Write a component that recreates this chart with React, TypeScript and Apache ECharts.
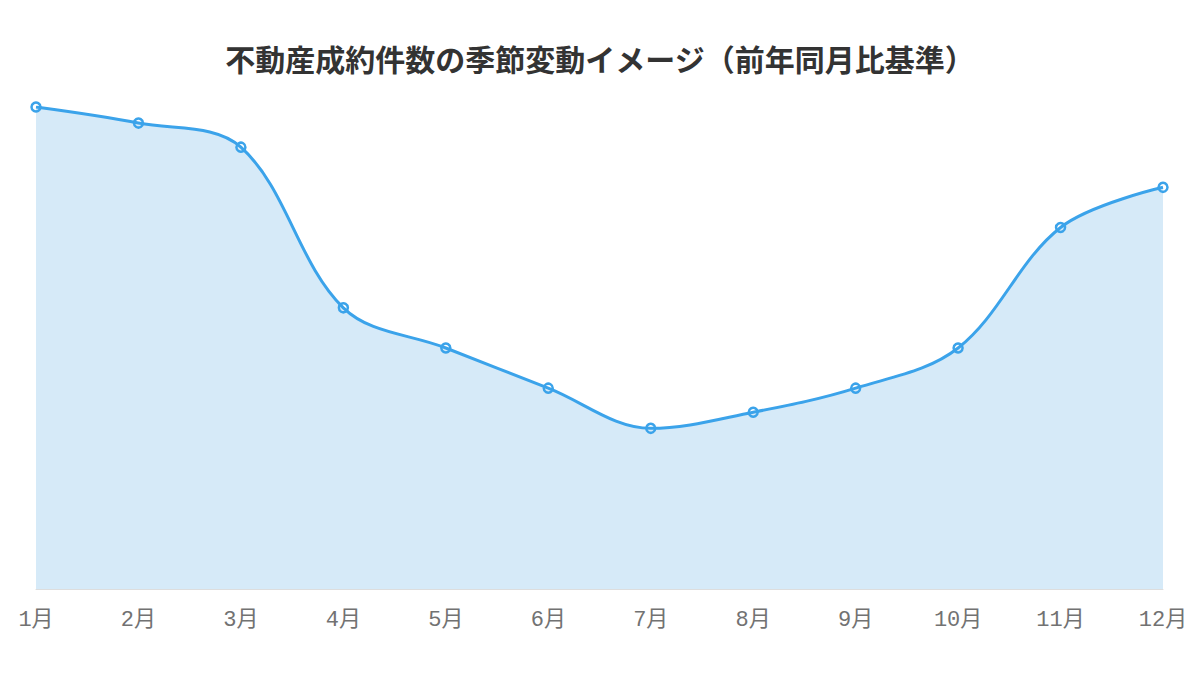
import React, { useEffect, useRef } from "react";
import * as echarts from "echarts";

const months = ["1月", "2月", "3月", "4月", "5月", "6月", "7月", "8月", "9月", "10月", "11月", "12月"];
const values = [12, 11.6, 11, 7, 6, 5, 4, 4.4, 5, 6, 9, 10];
const titleText = "不動産成約件数の季節変動イメージ（前年同月比基準）";

export default function App() {
  const ref = useRef<HTMLDivElement>(null);
  useEffect(() => {
    const chart = echarts.init(ref.current!, null, { renderer: "svg" });
    chart.setOption({
      animation: false,
      backgroundColor: "#ffffff",
      title: {
        text: titleText,
        left: "center",
        top: 38,
        textStyle: {
          fontSize: 30,
          fontWeight: "bold",
          color: "#333333",
          fontFamily: "'Noto Sans CJK JP', sans-serif",
        },
      },
      grid: { left: 36, right: 37, top: 107, bottom: 86 },
      xAxis: {
        type: "category",
        data: months,
        boundaryGap: false,
        axisLine: { show: true, lineStyle: { color: "#dddddd", width: 1 } },
        axisTick: { show: false },
        axisLabel: {
          color: "#727272",
          fontSize: 22,
          margin: 20,
          fontFamily: "'Liberation Mono', 'Noto Sans CJK JP', monospace",
        },
        splitLine: { show: false },
      },
      yAxis: {
        type: "value",
        min: 0,
        max: 12,
        show: false,
        splitLine: { show: false },
      },
      series: [
        {
          type: "line",
          data: values,
          smooth: 0.35,
          symbol: "circle",
          symbolSize: 9,
          lineStyle: { color: "#3ba3ea", width: 3 },
          itemStyle: { color: "rgba(0,0,0,0)", borderColor: "#3ba3ea", borderWidth: 2.5 },
          areaStyle: { color: "#d6eaf8", opacity: 1 },
        },
      ],
    });
    return () => chart.dispose();
  }, []);
  return <div ref={ref} style={{ width: 1200, height: 675, position: "absolute", left: 0, top: 0 }} />;
}
